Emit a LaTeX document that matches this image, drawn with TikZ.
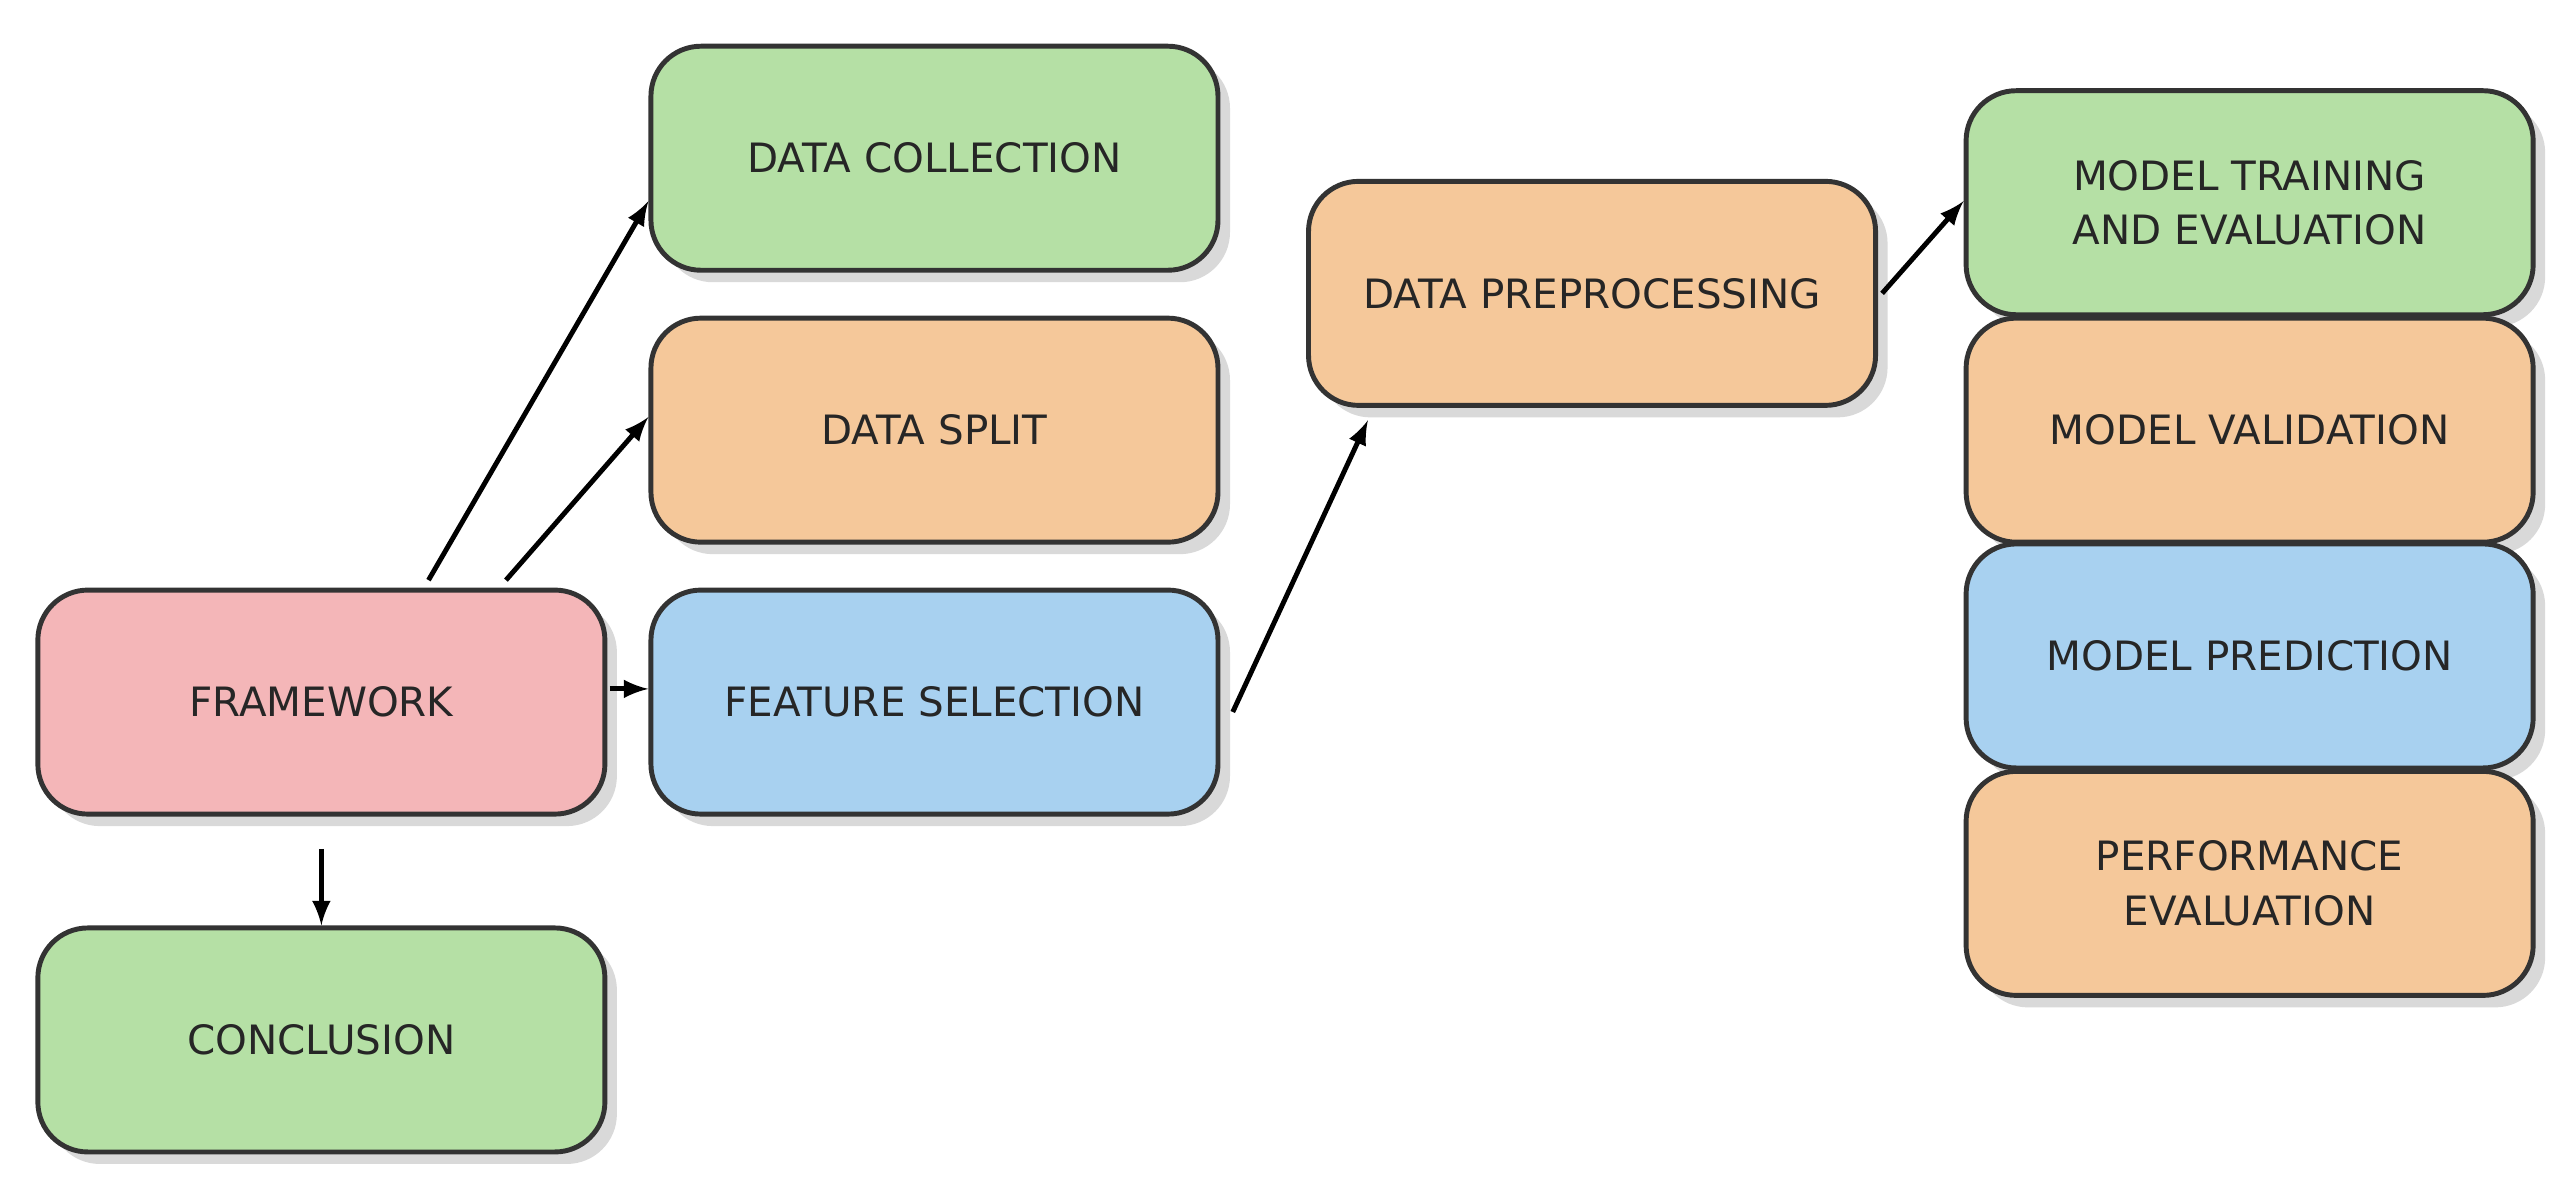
\documentclass[tikz,border=0pt]{standalone}
\usepackage{fontspec}
\setmainfont{DejaVu Sans}
\usetikzlibrary{shadows}
\definecolor{cg}{HTML}{B5E0A5}
\definecolor{co}{HTML}{F5C89A}
\definecolor{cb}{HTML}{A8D1F0}
\definecolor{cp}{HTML}{F4B6B8}
\begin{document}
\begin{tikzpicture}[x=0.01648cm,y=-0.01648cm,
 box/.style={draw=black!80,line width=1.4pt,rounded corners=0.5cm,minimum width=5.67cm,minimum height=2.24cm,align=center,font=\fontsize{11.5}{15.5}\selectfont,text=black!85,drop shadow={shadow xshift=0.12cm,shadow yshift=-0.12cm,fill=black!25,opacity=0.6}},
 arr/.style={-latex,line width=1.4pt}]
\useasboundingbox (0,0) rectangle (1560,723);
\node[box,fill=cp] (fw) at (195,426) {FRAMEWORK};
\node[box,fill=cg] (con) at (195,631) {CONCLUSION};
\node[box,fill=cg] (dc) at (567,96) {DATA COLLECTION};
\node[box,fill=co] (ds) at (567,261) {DATA SPLIT};
\node[box,fill=cb] (fs) at (567,426) {FEATURE SELECTION};
\node[box,fill=co] (dp) at (966,178) {DATA PREPROCESSING};
\node[box,fill=cg] (mt) at (1365,123) {MODEL TRAINING\\AND EVALUATION};
\node[box,fill=co] (mv) at (1365,261) {MODEL VALIDATION};
\node[box,fill=cb] (mp) at (1365,398) {MODEL PREDICTION};
\node[box,fill=co] (pe) at (1365,536) {PERFORMANCE\\EVALUATION};
\coordinate (a1) at (260,352);
\coordinate (a2) at (307,352);
\coordinate (a3) at (370,418);
\coordinate (a4) at (195,515);
\coordinate (a5) at (748,432);
\coordinate (a6) at (1142,178);
\draw[arr] (a1) -- (dc.west |- 0,122);
\draw[arr] (a2) -- (ds.west |- 0,253);
\draw[arr] (a3) -- (fs.west |- 0,418);
\draw[arr] (a4) -- (con.north);
\draw[arr] (a5) -- (830,255) coordinate (b5);
\draw[arr] (a6) -- (mt.west |- 0,122);
\end{tikzpicture}
\end{document}
